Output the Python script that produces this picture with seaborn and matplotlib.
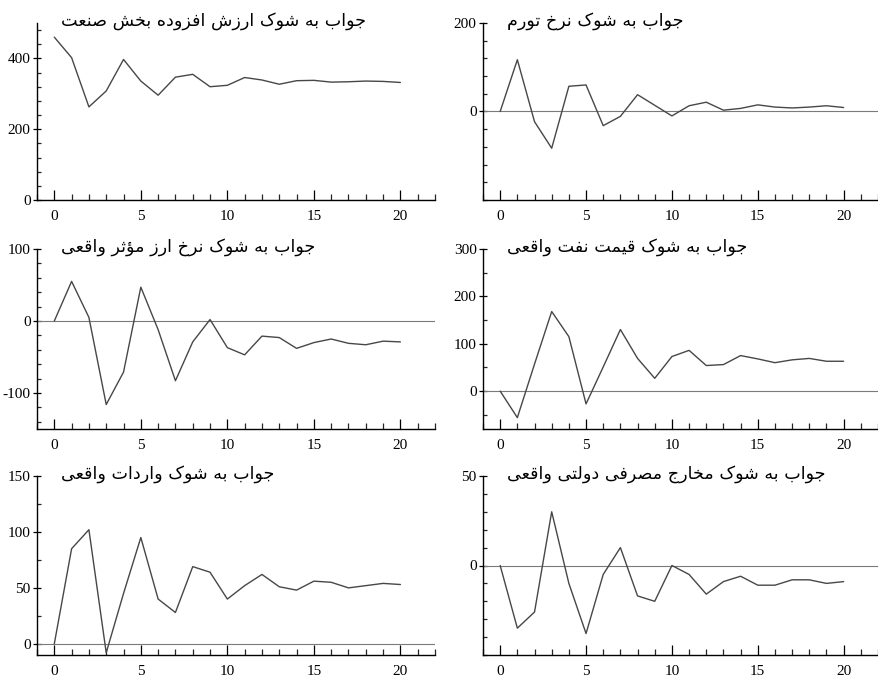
import matplotlib
matplotlib.use("Agg")
import matplotlib.pyplot as plt
import seaborn as sns
from matplotlib.ticker import MultipleLocator, FixedLocator

# impulse response horizon
steps = list(range(21))

# responses
industry_va = [460, 402, 263, 308, 397, 336, 296, 347, 355, 320, 324, 346, 339, 327, 337, 338, 333, 334, 336, 335, 332]
inflation = [0, 117, -23, -83, 57, 60, -32, -11, 38, 14, -10, 13, 21, 3, 7, 15, 10, 8, 10, 13, 9]
exchange_rate = [0, 55, 5, -116, -71, 47, -12, -83, -29, 2, -37, -47, -21, -23, -38, -30, -25, -31, -33, -28, -29]
oil_price = [0, -56, 57, 168, 115, -27, 51, 130, 69, 27, 73, 86, 54, 56, 75, 68, 60, 66, 69, 63, 63]
imports = [0, 85, 102, -8, 45, 95, 40, 28, 69, 64, 40, 52, 62, 51, 48, 56, 55, 50, 52, 54, 53]
gov_spending = [0, -35, -26, 30, -10, -38, -5, 10, -17, -20, 0, -5, -16, -9, -6, -11, -11, -8, -8, -10, -9]

titles = [
    "جواب به شوک ارزش افزوده بخش صنعت",
    "جواب به شوک نرخ تورم",
    "جواب به شوک نرخ ارز مؤثر واقعی",
    "جواب به شوک قیمت نفت واقعی",
    "جواب به شوک واردات واقعی",
    "جواب به شوک مخارج مصرفی دولتی واقعی",
]
series = [industry_va, inflation, exchange_rate, oil_price, imports, gov_spending]
ylims = [(0, 500), (-200, 200), (-150, 100), (-80, 300), (-10, 150), (-50, 50)]
ylabels = [[0, 200, 400], [0, 200], [-100, 0, 100], [0, 100, 200, 300], [0, 50, 100, 150], [0, 50]]
yminor = [40, 40, 20, 50, 25, 10]

# matplotlib 3.10 does no Arabic shaping, so pick contextual forms by hand
FORMS = {
    "ا": ("\uFE8D", "\uFE8E", None, None),
    "ب": ("\uFE8F", "\uFE90", "\uFE91", "\uFE92"),
    "ت": ("\uFE95", "\uFE96", "\uFE97", "\uFE98"),
    "ث": ("\uFE99", "\uFE9A", "\uFE9B", "\uFE9C"),
    "ج": ("\uFE9D", "\uFE9E", "\uFE9F", "\uFEA0"),
    "خ": ("\uFEA5", "\uFEA6", "\uFEA7", "\uFEA8"),
    "د": ("\uFEA9", "\uFEAA", None, None),
    "ر": ("\uFEAD", "\uFEAE", None, None),
    "ز": ("\uFEAF", "\uFEB0", None, None),
    "ش": ("\uFEB5", "\uFEB6", "\uFEB7", "\uFEB8"),
    "ص": ("\uFEB9", "\uFEBA", "\uFEBB", "\uFEBC"),
    "ع": ("\uFEC9", "\uFECA", "\uFECB", "\uFECC"),
    "ف": ("\uFED1", "\uFED2", "\uFED3", "\uFED4"),
    "ق": ("\uFED5", "\uFED6", "\uFED7", "\uFED8"),
    "ل": ("\uFEDD", "\uFEDE", "\uFEDF", "\uFEE0"),
    "م": ("\uFEE1", "\uFEE2", "\uFEE3", "\uFEE4"),
    "ن": ("\uFEE5", "\uFEE6", "\uFEE7", "\uFEE8"),
    "ه": ("\uFEE9", "\uFEEA", "\uFEEB", "\uFEEC"),
    "و": ("\uFEED", "\uFEEE", None, None),
    "ؤ": ("\uFE85", "\uFE86", None, None),
    "ک": ("\uFB8E", "\uFB8F", "\uFB90", "\uFB91"),
    "ی": ("\uFBFC", "\uFBFD", "\uFBFE", "\uFBFF"),
}


def shape_rtl(text: str) -> str:
    chars = list(text)
    out = []
    for i, c in enumerate(chars):
        if c not in FORMS:
            out.append(c)
            continue
        prev = chars[i - 1] if i > 0 else None
        nxt = chars[i + 1] if i + 1 < len(chars) else None
        joins_prev = prev in FORMS and FORMS[prev][2] is not None
        joins_next = FORMS[c][2] is not None and nxt in FORMS
        iso, fin, ini, med = FORMS[c]
        if joins_prev and joins_next:
            out.append(med)
        elif joins_prev:
            out.append(fin)
        elif joins_next:
            out.append(ini)
        else:
            out.append(iso)
    return "".join(reversed(out))


sns.set_theme(style="ticks")
plt.rcParams["font.family"] = ["Liberation Serif", "DejaVu Sans"]
plt.rcParams["axes.edgecolor"] = "black"
plt.rcParams["axes.linewidth"] = 1.0
plt.rcParams["axes.unicode_minus"] = False

W, H = 879, 678
fig = plt.figure(figsize=(W / 100, H / 100), dpi=100)

# axes boxes in pixels: left, right, top, bottom
cols = [(37, 435), (483, 878)]
rows = [(23, 200), (249, 429), (476, 655)]

for k, (vals, title) in enumerate(zip(series, titles)):
    (l, r), (t, b) = cols[k % 2], rows[k // 2]
    ax = fig.add_axes([l / W, 1 - b / H, (r - l) / W, (b - t) / H])
    ax.axhline(0, color="#7a7a7a", lw=0.8, zorder=1)
    sns.lineplot(x=steps, y=vals, ax=ax, color="#474747", lw=1.0, zorder=2)
    ax.set_xlim(-1, 22)
    ax.set_ylim(*ylims[k])
    sns.despine(ax=ax)

    ax.xaxis.set_major_locator(FixedLocator([0, 5, 10, 15, 20]))
    ax.xaxis.set_minor_locator(MultipleLocator(1))
    ax.yaxis.set_major_locator(FixedLocator(ylabels[k]))
    ax.yaxis.set_minor_locator(MultipleLocator(yminor[k]))
    ax.tick_params(axis="x", which="major", direction="in", length=7, width=0.9,
                   pad=7.5, labelsize=11, colors="black")
    ax.tick_params(axis="x", which="minor", direction="in", length=4, width=0.9)
    ax.tick_params(axis="y", which="major", direction="inout", length=6, width=0.9,
                   pad=1.5, labelsize=11, colors="black")
    ax.tick_params(axis="y", which="minor", direction="in", length=3, width=0.9)
    ax.set_xlabel("")
    ax.set_ylabel("")

    ax.text(0.06, 1.01, shape_rtl(title), transform=ax.transAxes, ha="left",
            va="center", fontsize=12.6, family=["DejaVu Sans"], color="black")

fig.savefig("out.png", dpi=100)
